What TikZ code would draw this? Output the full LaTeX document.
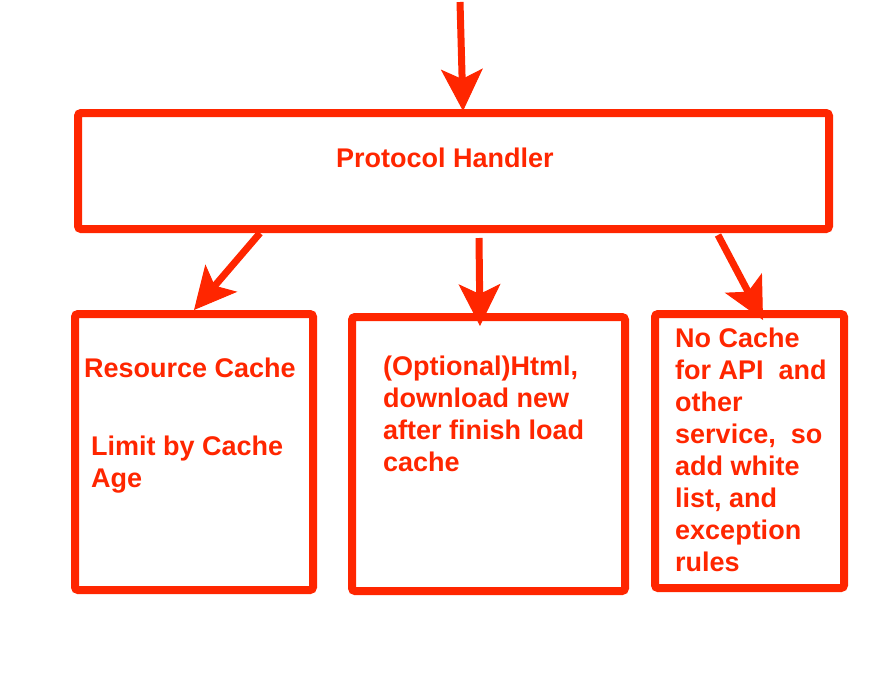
\documentclass[tikz,border=0pt]{standalone}
\usepackage{fontspec}
\setmainfont{Liberation Sans}
\usetikzlibrary{arrows.meta,calc}

\definecolor{alarm}{HTML}{FF2600}
\tikzset{
  frame/.style={draw=alarm, line width=8pt, rounded corners=3pt, inner sep=0pt},
  fatarrow/.style={draw=alarm, line width=7pt,
    -{Stealth[length=42pt, width=42pt, inset=10pt, line width=1pt]}},
  redtext/.style={text=alarm, font=\bfseries\fontsize{27}{32}\selectfont,
    align=left, anchor=base west, inner sep=0pt}
}

\begin{document}
\begin{tikzpicture}[x=1pt, y=-1pt]
        \useasboundingbox (0,0) rectangle (890,699);

        % Boxes.
        \node[frame, minimum width=751pt, minimum height=116pt] (handler) at (453.5,171) {};
        \node[frame, minimum width=238pt, minimum height=276pt] (resbox) at (194,452) {};
        \node[frame, minimum width=273pt, minimum height=274pt] (htmlbox) at (488.5,454) {};
        \node[frame, minimum width=189pt, minimum height=274pt] (apibox) at (749.5,451) {};

        % Arrows.
        \coordinate (entry) at (460,2);
        \draw[fatarrow] (entry) -- ([xshift=9.5pt,yshift=-2pt]handler.north);
        \draw[fatarrow] ([xshift=-193.5pt]handler.south) -- (resbox.north);
        \draw[fatarrow] ([xshift=25.5pt,yshift=-5pt]handler.south) -- ([xshift=-8.5pt,yshift=-13pt]htmlbox.north);
        \draw[fatarrow] ([xshift=264.5pt,yshift=-2pt]handler.south) -- ([xshift=13.5pt,yshift=-10pt]apibox.north);

        % Texts (base anchor sits on the last line).
        \node[redtext] (handlertext) at (336,167) {Protocol Handler};
        \node[redtext] (restitle) at (84,377) {Resource Cache};
        \node[redtext] (reslimit) at (91,487) {Limit by Cache\\Age};
        \node[redtext] (htmltext) at (383,471) {(Optional)Html,\\download new\\after finish load\\cache};
        \node[redtext] (apitext) at (675,571) {No Cache\\for API\ \ and\\other\\service,\ \ so\\add white\\list, and\\exception\\rules};

    \end{tikzpicture}
\end{document}
